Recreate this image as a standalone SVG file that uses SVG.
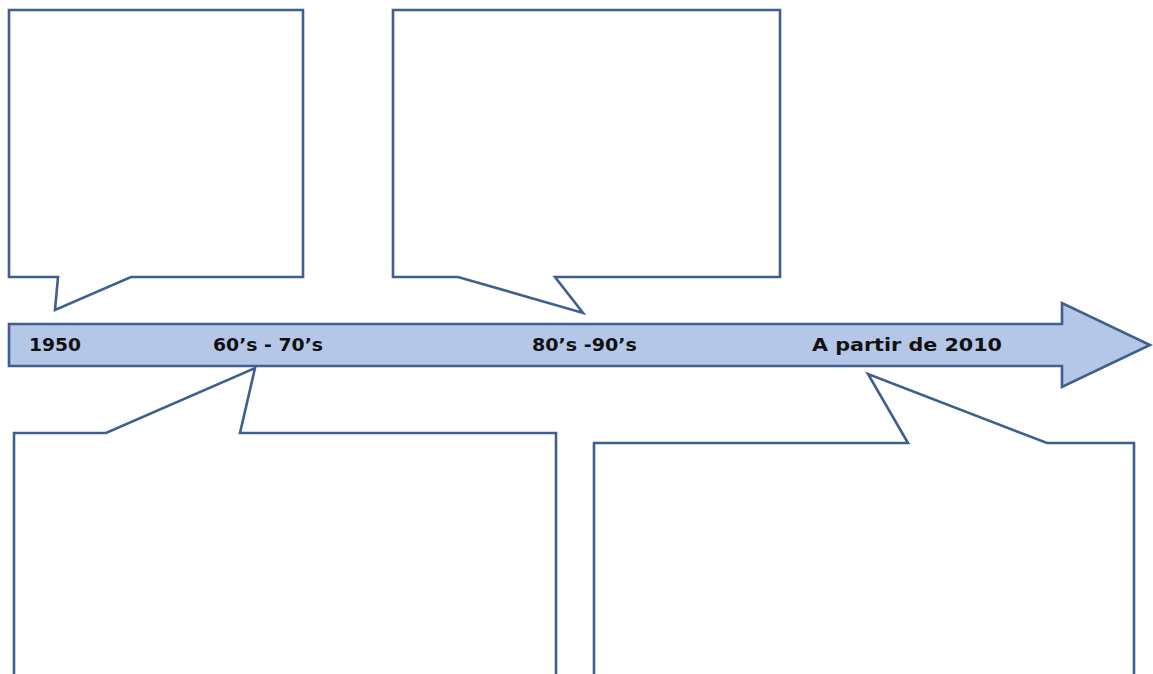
<svg xmlns="http://www.w3.org/2000/svg" width="1153" height="674" viewBox="0 0 1153 674">
  <style>
    .callout { fill: #ffffff; stroke: #3f5f8f; stroke-width: 2.6; stroke-linejoin: miter; }
    .timeline { fill: #b4c7e7; stroke: #3f5f8f; stroke-width: 2.6; }
    .label { font-family: "DejaVu Sans", Verdana, sans-serif; font-weight: bold; font-size: 18px; fill: #111111; }
  </style>
  <rect width="1153" height="674" fill="#ffffff"/>

  <g id="connectors">
    <!-- timeline arrow -->
    <polygon id="timeline-arrow" class="timeline" points="9,324 1062,324 1062,303 1150,345 1062,387 1062,366 9,366"/>
  </g>

  <g id="label-1950"><text class="label" x="29" y="351" textLength="52" lengthAdjust="spacingAndGlyphs">1950</text></g>
  <g id="label-6070"><text class="label" x="213" y="351" textLength="110" lengthAdjust="spacingAndGlyphs">60’s - 70’s</text></g>
  <g id="label-8090"><text class="label" x="532" y="351" textLength="105" lengthAdjust="spacingAndGlyphs">80’s -90’s</text></g>
  <g id="label-2010"><text class="label" x="812" y="351" textLength="190" lengthAdjust="spacingAndGlyphs">A partir de 2010</text></g>

  <g id="callout-1950">
    <polygon class="callout" points="9,10 303,10 303,277 131,277 55,310 58,277 9,277"/>
  </g>
  <g id="callout-8090">
    <polygon class="callout" points="393,10 780,10 780,277 555,277 583,313 458,277 393,277"/>
  </g>
  <g id="callout-6070">
    <polygon class="callout" points="14,433 106,433 255,368 240,433 556,433 556,690 14,690"/>
  </g>
  <g id="callout-2010">
    <polygon class="callout" points="594,443 908,443 868,374 1047,443 1134,443 1134,690 594,690"/>
  </g>
</svg>
